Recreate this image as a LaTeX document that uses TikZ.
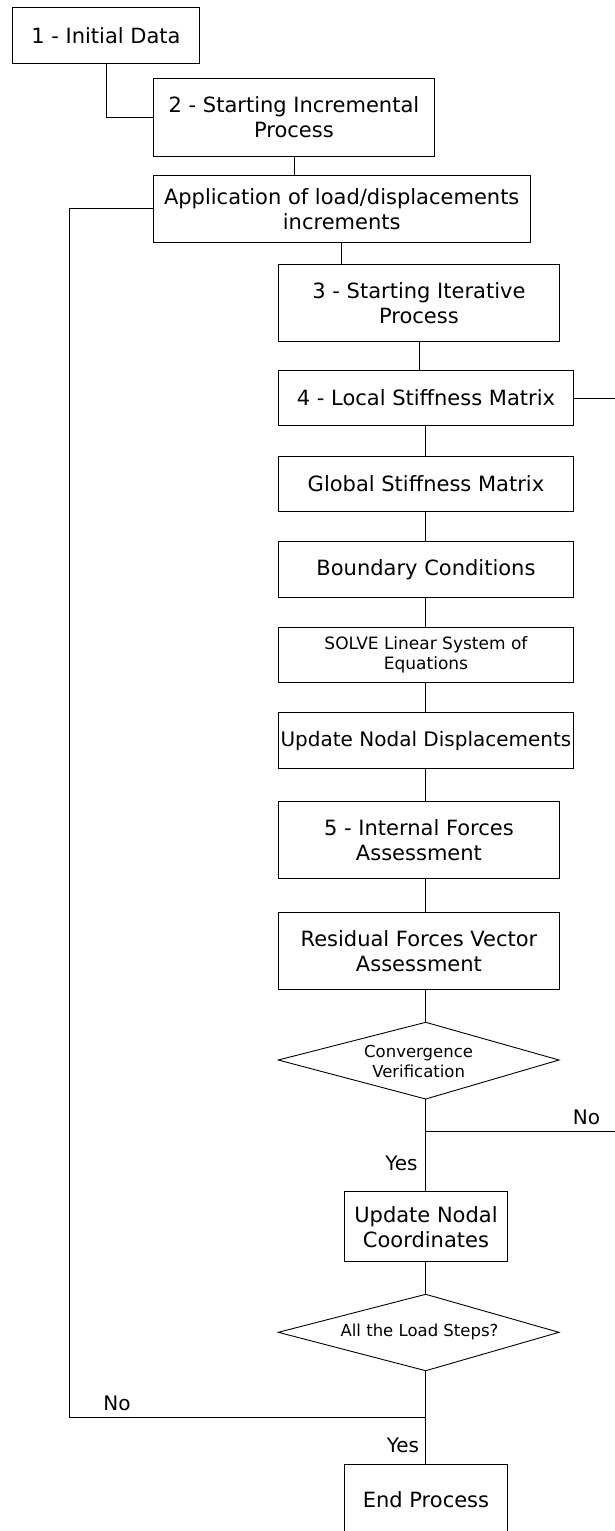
\documentclass[tikz,border=0pt]{standalone}
\usepackage{fontspec}
\setmainfont{DejaVu Sans}
\begin{document}
\begin{tikzpicture}[x=1pt,y=-1pt,
  line/.style={draw=black,line width=0.9pt},
  box/.style={line,fill=white,inner sep=0pt,align=center,anchor=north west,
    font=\fontsize{21}{25}\selectfont},
  smallbox/.style={box,font=\fontsize{17}{20}\selectfont},
  dtext/.style={inner sep=0pt,align=center,font=\fontsize{16.5}{20}\selectfont},
  lbl/.style={inner sep=0pt,font=\fontsize{20}{25}\selectfont}]
\useasboundingbox (0,0) rectangle (615,1531);
\coordinate (sp) at (425.7,0);
\coordinate (lx) at (69.3,0);
\coordinate (rx) at (615,0);

\node[box,minimum width=187pt,minimum height=56pt] (b1) at (12,7) {1 - Initial Data};
\node[box,minimum width=281pt,minimum height=78pt] (b2) at (153,78) {2 - Starting Incremental\\Process};
\node[box,minimum width=377.5pt,minimum height=66.5pt] (app) at (152.5,175) {Application of load/displacements\\increments};
\node[box,minimum width=281.6pt,minimum height=77pt] (b3) at (277.7,264.3) {3 - Starting Iterative\\Process};
\node[box,minimum width=295.6pt,minimum height=55pt] (b4) at (277.7,370) {4 - Local Stiffness Matrix};
\node[box,minimum width=295.6pt,minimum height=55.3pt] (glob) at (277.7,455.7) {Global Stiffness Matrix};
\node[box,minimum width=295.6pt,minimum height=55.7pt] (bc) at (277.7,541) {Boundary Conditions};
\node[smallbox,minimum width=295.6pt,minimum height=55.3pt] (solve) at (277.7,626.7) {SOLVE Linear System of\\Equations};
\node[box,minimum width=295.6pt,minimum height=55.7pt,font=\fontsize{20}{25}\selectfont] (upd) at (277.7,712.3) {Update Nodal Displacements};
\node[box,minimum width=281.6pt,minimum height=77pt] (int) at (277.7,801.3) {5 - Internal Forces\\Assessment};
\node[box,minimum width=281.6pt,minimum height=77.3pt] (res) at (277.7,911.7) {Residual Forces Vector\\Assessment};
\node[box,minimum width=163.6pt,minimum height=70pt] (uc) at (343.7,1191.3) {Update Nodal\\Coordinates};
\node[box,minimum width=163.6pt,minimum height=70pt] (end) at (343.7,1464) {End Process};

% decision 1
\coordinate (d1t) at (425.7,1022.3);
\coordinate (d1r) at (559,1060);
\coordinate (d1b) at (425.7,1099);
\coordinate (d1l) at (278.3,1060);
\draw[line] (d1t) -- (d1r) -- (d1b) -- (d1l) -- cycle;
\node[dtext] (d1) at (418.6,1061) {Convergence\\Verification};
% decision 2
\coordinate (d2t) at (425.7,1294.3);
\coordinate (d2r) at (559,1332.3);
\coordinate (d2b) at (425.7,1370.7);
\coordinate (d2l) at (278.3,1332.3);
\draw[line] (d2t) -- (d2r) -- (d2b) -- (d2l) -- cycle;
\node[dtext] (d2) at (419.5,1332.3) {All the Load Steps?};

% connectors
\draw[line] (b1.south) |- (b2.west);
\draw[line] (b2.south) -- (b2.south |- app.north);
\draw[line] (app.south) -- (app.south |- b3.north);
\draw[line] (b3.south) -- (b3.south |- b4.north);
\draw[line] (b4.south -| sp) -- (glob.north -| sp);
\draw[line] (glob.south -| sp) -- (bc.north -| sp);
\draw[line] (bc.south -| sp) -- (solve.north -| sp);
\draw[line] (solve.south -| sp) -- (upd.north -| sp);
\draw[line] (upd.south -| sp) -- (int.north -| sp);
\draw[line] (int.south -| sp) -- (res.north -| sp);
\draw[line] (res.south -| sp) -- (d1t);
\draw[line] (d1b) -- (uc.north -| sp);
\draw[line] (uc.south -| sp) -- (d2t);
\draw[line] (d2b) -- (end.north -| sp);
\draw[line] (b4.east) -- (b4.east -| rx);
\coordinate (j1) at (425.7,1131.7);
\draw[line] (j1) -- (j1 -| rx);
\coordinate (j2) at (425.7,1417.7);
\draw[line] (j2) -| (app.west -| lx) -- (app.west);

% labels
\node[lbl] (no1) at (586.5,1117) {No};
\node[lbl] (yes1) at (401.5,1163) {Yes};
\node[lbl] (no2) at (117,1403) {No};
\node[lbl] (yes2) at (403,1445) {Yes};
\end{tikzpicture}
\end{document}
